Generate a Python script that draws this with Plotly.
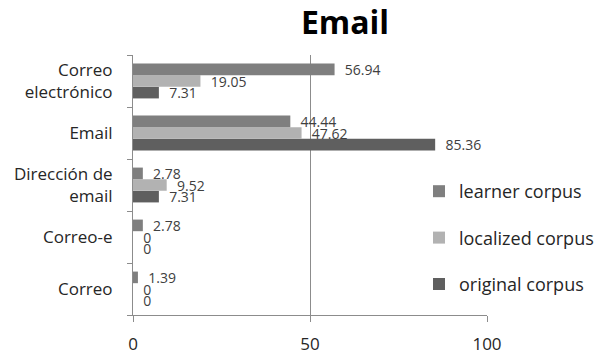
import plotly.graph_objects as go

categories = ["Correo", "Correo-e", "Dirección de<br>email", "Email", "Correo<br>electrónico"]
learner = [1.39, 2.78, 2.78, 44.44, 56.94]
localized = [0, 0, 9.52, 47.62, 19.05]
original = [0, 0, 7.31, 85.36, 7.31]
x_ticks = [0, 50, 100]

series = [
    ("original corpus", original, "#5f5f5f", 3),
    ("localized corpus", localized, "#b2b2b2", 2),
    ("learner corpus", learner, "#7f7f7f", 1),
]

FONT = "Open Sans"
L, R, T, B = 133, 487, 55, 315
W, H = 597, 354
fig = go.Figure()
for name, vals, color, rank in series:
    fig.add_trace(go.Bar(
        y=categories, x=vals, orientation="h", name=name,
        marker=dict(color=color, line=dict(width=0)),
        text=["\u00a0\u00a0" + f"{v:g}" for v in vals],
        textposition="outside", constraintext="none", cliponaxis=False,
        textfont=dict(family=FONT, size=14, color="#404040"),
        legendrank=rank, legendgroup=name,
    ))

fig.update_layout(
    width=W, height=H,
    margin=dict(l=L, r=W - R, t=T, b=H - B, autoexpand=False),
    paper_bgcolor="white", plot_bgcolor="white",
    barmode="group", bargap=0.33, bargroupgap=0,
    font=dict(family=FONT, color="#262626"),
    title=dict(text="<b>Email</b>", x=345 / W, xanchor="center",
               y=1 - 23 / H, yanchor="middle",
               font=dict(family=FONT, size=32, color="#000000")),
    legend=dict(xref="container", yref="container",
                x=419 / W, xanchor="left",
                y=1 - 173 / H, yanchor="top",
                bgcolor="white", traceorder="grouped", tracegroupgap=20,
                font=dict(family=FONT, size=18, color="#262626")),
    showlegend=True,
)
fig.update_xaxes(
    range=[0, 100], tickvals=x_ticks, showgrid=True, gridcolor="#8c8c8c", gridwidth=1,
    zeroline=False, showline=True, linecolor="#8c8c8c", linewidth=1,
    ticks="outside", ticklen=6, tickcolor="#8c8c8c", ticklabelstandoff=8,
    tickfont=dict(family=FONT, size=17, color="#262626"), automargin=False,
)
fig.update_yaxes(
    type="category", categoryorder="array", categoryarray=categories,
    showgrid=False, zeroline=False, showline=True, linecolor="#8c8c8c", linewidth=1,
    ticks="outside", ticklen=5, tickcolor="#8c8c8c", tickson="boundaries",
    ticklabelstandoff=16,
    tickfont=dict(family=FONT, size=17, color="#262626"), automargin=False,
)
fig.write_html("out.html")
